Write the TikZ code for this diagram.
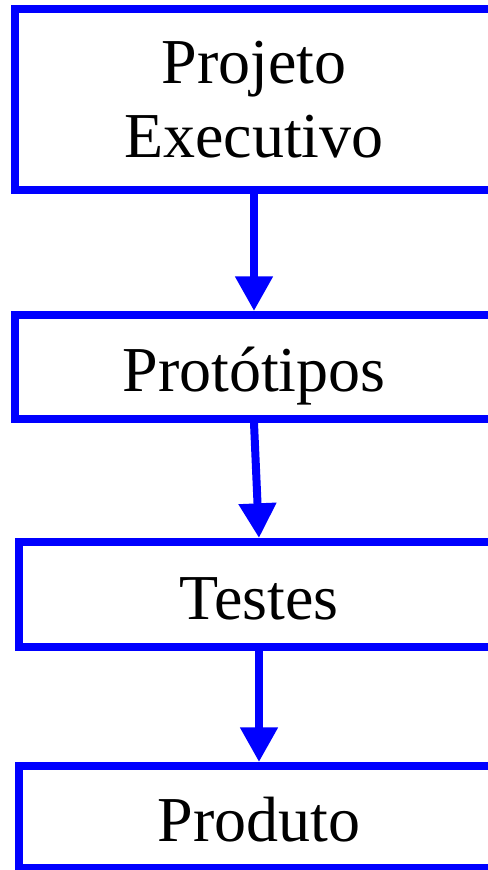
\documentclass[tikz,border=0pt]{standalone}
\usepackage{fontspec}
\setmainfont{Liberation Serif}
\usetikzlibrary{arrows.meta}
\definecolor{boxblue}{RGB}{0,0,255}
\tikzset{
  stagebox/.style={draw=boxblue, line width=6pt, inner sep=0pt, align=center,
    minimum width=358.5pt, font=\fontsize{48}{56}\selectfont},
  oneline/.style={text height=37pt, text depth=0pt},
  flow/.style={draw=boxblue, line width=6pt, -{Triangle[width=27pt,length=26pt]}}
}
\begin{document}
\begin{tikzpicture}[x=0.75pt,y=-0.75pt]
\clip (0,0) rectangle (488,870);
\node[stagebox, minimum height=135pt] (st0) at (254,99.5) {Projeto\\Executivo};
\node[stagebox, oneline, minimum height=78pt] (st1) at (254,367) {Protótipos};
\node[stagebox, oneline, minimum height=78.75pt, minimum width=360pt] (st2) at (259,594.5) {Testes};
\node[stagebox, oneline, minimum height=76.5pt, minimum width=360pt] (st3) at (259,817) {Produto};
\draw[flow] (st0.south) -- (st1.north);
\draw[flow] (st1.south) -- (st2.north);
\draw[flow] (st2.south) -- (st3.north);
\end{tikzpicture}
\end{document}
